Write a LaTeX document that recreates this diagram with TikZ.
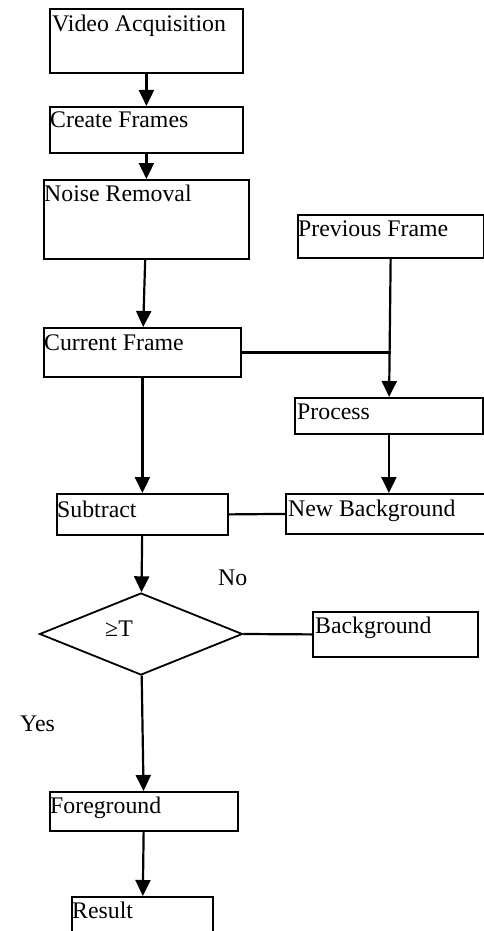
\documentclass[tikz,border=0pt]{standalone}
\usepackage{fontspec}
\setmainfont{Liberation Serif}
\usetikzlibrary{shapes.geometric,arrows.meta}

\begin{document}
\begin{tikzpicture}[x=1pt,y=-1pt,
  box/.style={draw, line width=1.8pt, inner sep=0pt, anchor=north west},
  lbl/.style={anchor=base west, inner sep=0pt, font=\fontsize{23.8}{28}\selectfont},
  link/.style={line width=2.2pt},
  arr/.style={link, -{Triangle[width=15pt,length=16pt]}}]

\useasboundingbox (0,0) rectangle (484,931);

% process boxes
\node[box, minimum width=193pt, minimum height=64pt] (va)  at (49,8)   {};
\node[box, minimum width=193pt, minimum height=46pt] (cf)  at (49,106) {};
\node[box, minimum width=205pt, minimum height=79pt] (nr)  at (43,179) {};
\node[box, minimum width=197pt, minimum height=49pt] (cur) at (43,327) {};
\node[box, minimum width=186pt, minimum height=43pt] (pf)  at (297,214) {};
\node[box, minimum width=188pt, minimum height=36pt] (pr)  at (294,397) {};
\node[box, minimum width=206pt, minimum height=40pt] (nb)  at (285,493) {};
\node[box, minimum width=171pt, minimum height=41pt] (sub) at (56,493) {};
\node[box, minimum width=165pt, minimum height=45pt] (bg)  at (312,611) {};
\node[box, minimum width=188pt, minimum height=39pt] (fg)  at (49,791) {};
\node[box, minimum width=141pt, minimum height=60pt] (res) at (71,896) {};

% threshold decision
\node[draw, diamond, line width=1.8pt, inner sep=0pt,
      minimum width=203pt, minimum height=82pt] (th) at (141,634) {};

% box texts
\node[lbl] (tva)  at (52,32)    {Video Acquisition};
\node[lbl] (tcf)  at (50,128)   {Create Frames};
\node[lbl] (tnr)  at (44,201.5) {Noise Removal};
\node[lbl] (tcur) at (44,350)   {Current Frame};
\node[lbl] (tpf)  at (298,236.5){Previous Frame};
\node[lbl] (tpr)  at (297,419)  {Process};
\node[lbl] (tnb)  at (288,516.5){New Background};
\node[lbl] (tsub) at (57,517)   {Subtract};
\node[lbl] (tth)  at (105,636.5){≥T};
\node[lbl] (tno)  at (218,585)  {No};
\node[lbl] (tbg)  at (315,633)  {Background};
\node[lbl] (tyes) at (20,731.5) {Yes};
\node[lbl] (tfg)  at (50,813)   {Foreground};
\node[lbl] (tres) at (72,918)   {Result};

% main flow
\draw[arr] (va) -- (cf);
\draw[arr] (cf) -- (nr);
\draw[arr] (nr) -- (cur);
\draw[arr] (cur) -- (sub);
\draw[arr] (sub) -- (th);
\draw[arr] (th) -- (fg);
\draw[arr] (fg) -- (res);

% background update branch
\draw[arr] (pf) -- (pr);
\draw[arr] (pr) -- (nb);
\draw[link] (cur.east) -- (cur.east -| pf.south);
\draw[link] (sub.east) -- (nb.west);
\draw[link] (th.east) -- (bg.west);
\end{tikzpicture}
\end{document}
